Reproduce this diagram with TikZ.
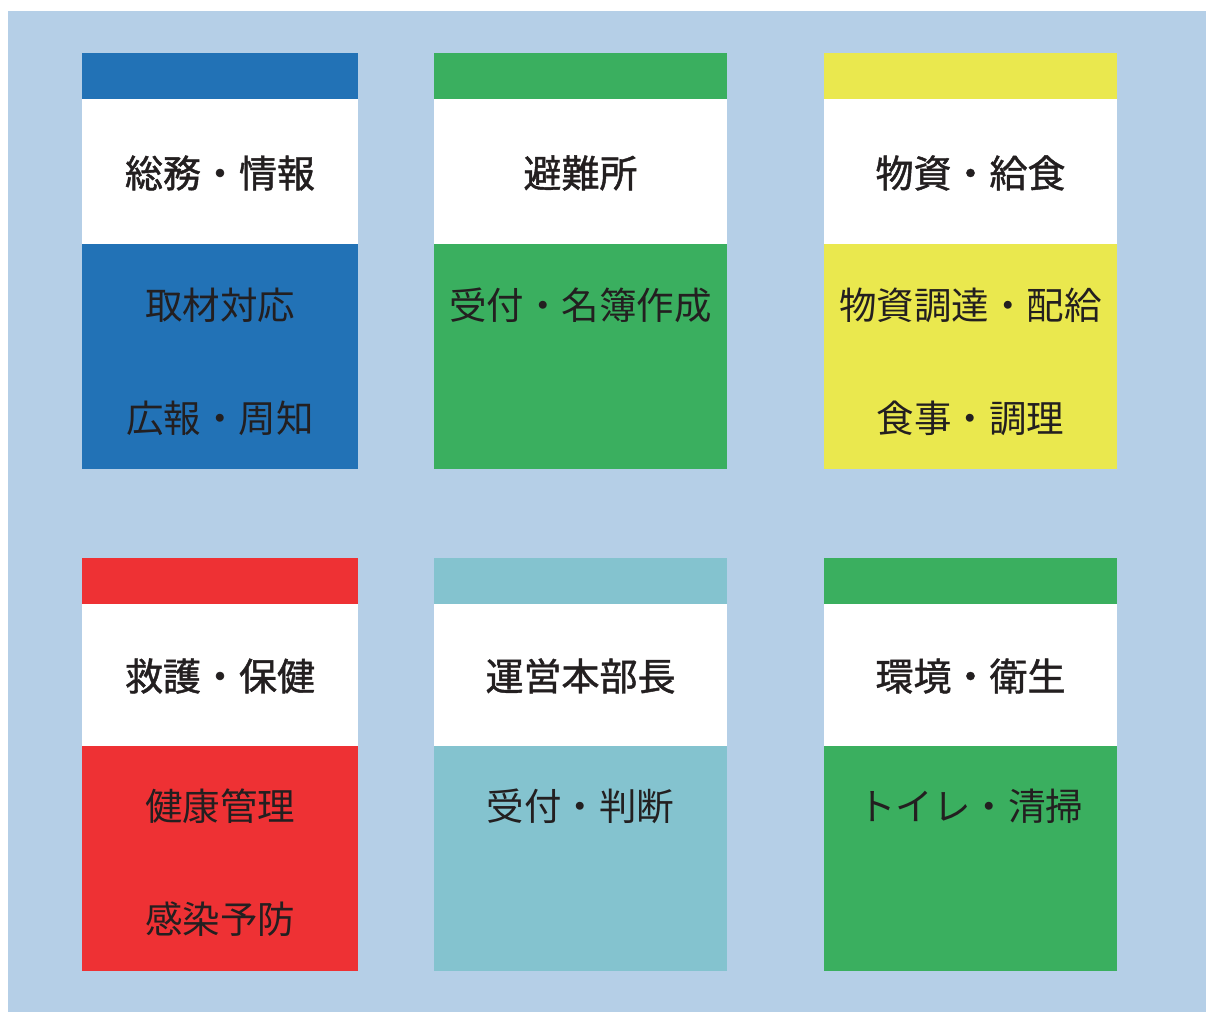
\documentclass[tikz,border=0pt]{standalone}
\usepackage{fontspec}
\setmainfont{Noto Sans CJK JP}
\newfontfamily\headfont[FakeBold=1.2]{Noto Sans CJK JP}
\definecolor{bgc}{HTML}{B5CFE7}
\definecolor{cblue}{HTML}{2272B6}
\definecolor{cgreen}{HTML}{3AAF5F}
\definecolor{cyellow}{HTML}{EAE84E}
\definecolor{cred}{HTML}{EE3134}
\definecolor{cteal}{HTML}{84C3CF}
\definecolor{txt}{HTML}{231F20}
\tikzset{
  headtxt/.style={text=txt, font=\headfont\fontsize{38}{40}\selectfont, inner sep=0pt, anchor=center},
  bodytxt/.style={text=txt, font=\fontsize{37.5}{40}\selectfont, inner sep=0pt, anchor=center},
}
% #1 x-left, #2 x-right, #3 band top, #4 color, #5 name, #6 header, #7 line1, #8 line2
\newcommand{\orgunit}[8]{%
  \fill[#4] (#1,#3) rectangle (#2,#3+46);
  \fill[white] (#1,#3+46) rectangle (#2,#3+191);
  \fill[#4] (#1,#3+191) rectangle (#2,#3+416);
  \node[headtxt] (#5h) at ({(#1+#2)/2},#3+120) {#6};
  \node[bodytxt] (#5a) at ({(#1+#2)/2},#3+252) {#7};
  \node[bodytxt] (#5b) at ({(#1+#2)/2},#3+365) {#8};
}
\begin{document}
\begin{tikzpicture}[x=1pt,y=-1pt]
\useasboundingbox (0,0) rectangle (1206,1012);
\fill[bgc] (8,11) rectangle (1206,1012);
\orgunit{82}{358}{53}{cblue}{soumu}{総務・情報}{取材対応}{広報・周知}
\orgunit{434}{727}{53}{cgreen}{hinan}{避難所}{受付・名簿作成}{}
\orgunit{824}{1117}{53}{cyellow}{busshi}{物資・給食}{物資調達・配給}{食事・調理}
\fill[cred] (82,558) rectangle (358,604);
\fill[white] (82,604) rectangle (358,746);
\fill[cred] (82,746) rectangle (358,971);
\node[headtxt] (kyugoh) at (220,676) {救護・保健};
\node[bodytxt] (kyugoa) at (220,806) {健康管理};
\node[bodytxt] (kyugob) at (220,919) {感染予防};
\fill[cteal] (434,558) rectangle (727,604);
\fill[white] (434,604) rectangle (727,746);
\fill[cteal] (434,746) rectangle (727,971);
\node[headtxt] (honbuh) at (580.5,676) {運営本部長};
\node[bodytxt] (honbua) at (580.5,806) {受付・判断};
\fill[cgreen] (824,558) rectangle (1117,604);
\fill[white] (824,604) rectangle (1117,746);
\fill[cgreen] (824,746) rectangle (1117,971);
\node[headtxt] (kankyoh) at (970.5,676) {環境・衛生};
\node[bodytxt] (kankyoa) at (970.5,806) {トイレ・清掃};
\end{tikzpicture}
\end{document}
